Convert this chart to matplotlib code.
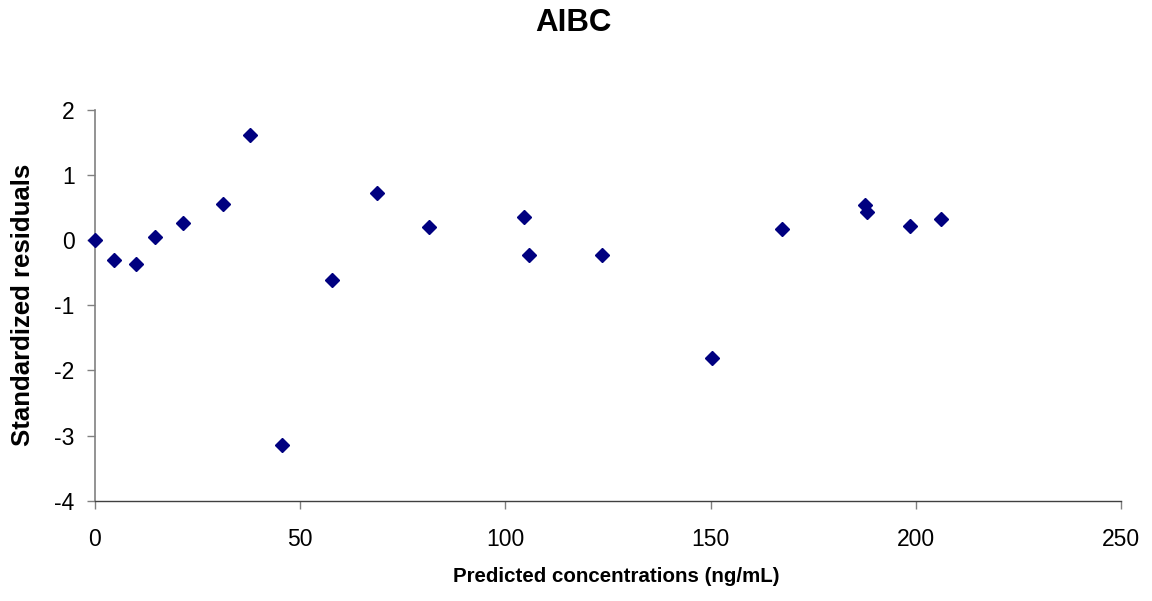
import matplotlib
matplotlib.use("Agg")
import matplotlib.pyplot as plt

plt.rcParams['font.family'] = ['Liberation Sans', 'DejaVu Sans']

predicted = [0.1, 4.8, 10.1, 14.7, 21.4, 31.2, 37.8, 45.7, 57.7, 68.7,
             81.3, 104.6, 105.8, 123.6, 150.2, 167.3, 187.6, 188.1, 198.5, 206.1]
residuals = [0.00, -0.30, -0.37, 0.05, 0.27, 0.56, 1.61, -3.14, -0.61, 0.72,
             0.21, 0.36, -0.22, -0.22, -1.81, 0.17, 0.54, 0.44, 0.22, 0.33]

x_ticks = [0, 50, 100, 150, 200, 250]
y_ticks = [-4, -3, -2, -1, 0, 1, 2]

fig = plt.figure(figsize=(11.52, 6.01), dpi=100)
ax = fig.add_axes([0.0822, 0.1669, 0.9734 - 0.0822, 0.817 - 0.1669])

ax.plot(predicted, residuals, linestyle='none', marker='D', markersize=7.5,
        color='#000080', markeredgecolor='#000080', clip_on=False, zorder=3)

ax.set_xlim(0, 250)
ax.set_ylim(-4, 2)
ax.set_xticks(x_ticks)
ax.set_yticks(y_ticks)
ax.set_xticklabels([str(v) for v in x_ticks])
ax.set_yticklabels([str(v) for v in y_ticks])

for s in ['top', 'right']:
    ax.spines[s].set_visible(False)
ax.spines['left'].set_color('#808080')
ax.spines['left'].set_linewidth(1.2)
ax.spines['bottom'].set_color('#404040')
ax.spines['bottom'].set_linewidth(1.0)

ax.tick_params(axis='x', direction='out', length=5.5, width=1, color='#808080',
               labelsize=16.5, pad=14)
ax.tick_params(axis='y', direction='out', length=5.5, width=1, color='#808080',
               labelsize=16.5, pad=9)

fig.text(616.5 / 1152, 1 - 577 / 601, 'Predicted concentrations (ng/mL)',
         ha='center', va='center', fontsize=14.8, fontweight='bold')
fig.text(23 / 1152, 1 - 305 / 601, 'Standardized residuals', rotation=90,
         ha='center', va='center', fontsize=18.5, fontweight='bold')

fig.text(573 / 1152, 1 - 23 / 601, 'AIBC', ha='center', va='center',
         fontsize=22.5, fontweight='bold')

fig.savefig('out.png', dpi=100)
